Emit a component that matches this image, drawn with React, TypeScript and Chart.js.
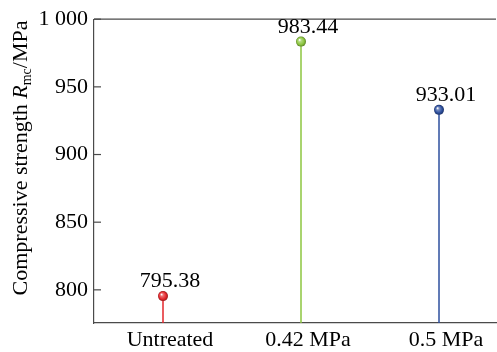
import React, { useEffect, useRef } from "react";
import { Chart, registerables } from "chart.js";

Chart.register(...registerables);

const categories = ["Untreated", "0.42 MPa", "0.5 MPa"];
const values = [795.38, 983.44, 933.01];
const valueLabels = ["795.38", "983.44", "933.01"];
const colors = ["#e3262b", "#8cc63f", "#2d4f9e"];
const stemColors = ["#e3262b", "#8cc63f", "#2d4f9e"];
const yTicks = [800, 850, 900, 950, 1000];
const yMin = 775.5;
const yMax = 1000;
const xMin = -0.5;
const xMax = 2.413;

const FONT = "'Liberation Serif', 'Times New Roman', serif";
const FS = 22;
const AXIS = "#4a4a4a";
const LABEL_DX = 7;

function shade(hex: string, f: number) {
  const n = parseInt(hex.slice(1), 16);
  let r = (n >> 16) & 255, g = (n >> 8) & 255, b = n & 255;
  if (f >= 0) {
    r = r + (255 - r) * f; g = g + (255 - g) * f; b = b + (255 - b) * f;
  } else {
    r = r * (1 + f); g = g * (1 + f); b = b * (1 + f);
  }
  return `rgb(${Math.round(r)},${Math.round(g)},${Math.round(b)})`;
}

const decorPlugin = {
  id: "decor",
  afterDatasetsDraw(chart: any) {
    const ctx = chart.ctx;
    const ca = chart.chartArea;
    const ys = chart.scales.y;
    ctx.save();
    // top border
    ctx.strokeStyle = AXIS;
    ctx.lineWidth = 1.2;
    ctx.beginPath();
    ctx.moveTo(ca.left, ca.top);
    ctx.lineTo(ca.right, ca.top);
    ctx.stroke();
    // inward y ticks
    yTicks.forEach((v) => {
      const py = ys.getPixelForValue(v);
      ctx.beginPath();
      ctx.moveTo(ca.left, py);
      ctx.lineTo(ca.left + 7, py);
      ctx.stroke();
    });
    // balls and labels
    const meta = chart.getDatasetMeta(3);
    meta.data.forEach((pt: any, i: number) => {
      const x = pt.x, y = pt.y, r = 5;
      const grad = ctx.createRadialGradient(x - 1.6, y - 1.8, 0.3, x, y, r);
      grad.addColorStop(0, "#ffffff");
      grad.addColorStop(0.25, shade(colors[i], 0.35));
      grad.addColorStop(0.7, colors[i]);
      grad.addColorStop(1, shade(colors[i], -0.35));
      ctx.fillStyle = grad;
      ctx.beginPath();
      ctx.arc(x, y, r, 0, Math.PI * 2);
      ctx.fill();
      ctx.fillStyle = "#000";
      ctx.font = `${FS}px ${FONT}`;
      ctx.textAlign = "center";
      ctx.textBaseline = "alphabetic";
      ctx.fillText(valueLabels[i], x + LABEL_DX, y - 9);
    });
    // y title
    ctx.translate(27, 158);
    ctx.rotate(-Math.PI / 2);
    ctx.fillStyle = "#000";
    ctx.textBaseline = "alphabetic";
    ctx.textAlign = "left";
    const p1 = "Compressive strength ";
    const p2 = "R";
    const p3 = "mc";
    const p4 = "/MPa";
    const sub = 14;
    ctx.font = `${FS}px ${FONT}`;
    const w1 = ctx.measureText(p1).width;
    ctx.font = `italic ${FS}px ${FONT}`;
    const w2 = ctx.measureText(p2).width;
    ctx.font = `${sub}px ${FONT}`;
    const w3 = ctx.measureText(p3).width;
    ctx.font = `${FS}px ${FONT}`;
    const w4 = ctx.measureText(p4).width;
    const total = w1 + w2 + w3 + w4;
    let cx = -total / 2;
    ctx.font = `${FS}px ${FONT}`;
    ctx.fillText(p1, cx, 0); cx += w1;
    ctx.font = `italic ${FS}px ${FONT}`;
    ctx.fillText(p2, cx, 0); cx += w2;
    ctx.font = `${sub}px ${FONT}`;
    ctx.fillText(p3, cx, 4); cx += w3;
    ctx.font = `${FS}px ${FONT}`;
    ctx.fillText(p4, cx, 0);
    ctx.restore();
  },
};

export default function App() {
  const ref = useRef<HTMLCanvasElement>(null);
  useEffect(() => {
    if (!ref.current) return;
    const stems = values.map((v, i) => ({
      type: "line" as const,
      data: [
        { x: i, y: yMin },
        { x: i, y: v },
      ],
      borderColor: stemColors[i],
      borderWidth: 1.5,
      pointRadius: 0,
      showLine: true,
    }));
    const chart = new Chart(ref.current, {
      type: "scatter",
      data: {
        datasets: [
          ...stems,
          {
            type: "scatter" as const,
            data: values.map((v, i) => ({ x: i, y: v })),
            pointRadius: 0,
            backgroundColor: colors,
          },
        ] as any,
      },
      options: {
        animation: false,
        responsive: false,
        events: [],
        layout: { padding: { top: 19, right: 1, left: 0, bottom: 0 } },
        plugins: {
          legend: { display: false },
          tooltip: { enabled: false },
        },
        scales: {
          x: {
            type: "linear",
            min: xMin,
            max: xMax,
            grid: { display: false, drawTicks: false },
            border: { display: true, color: AXIS, width: 1.2 },
            afterBuildTicks: (s: any) => {
              s.ticks = categories.map((_, i) => ({ value: i }));
            },
            afterFit: (s: any) => {
              s.height = 29;
            },
            ticks: {
              padding: 6,
              labelOffset: LABEL_DX,
              color: "#000",
              font: { family: FONT, size: FS, lineHeight: 1 },
              maxRotation: 0,
              autoSkip: false,
              callback: (v: any) => categories[v as number] ?? "",
            },
          },
          y: {
            type: "linear",
            min: yMin,
            max: yMax,
            grid: { display: false, drawTicks: false },
            border: { display: true, color: AXIS, width: 1.2 },
            afterBuildTicks: (s: any) => {
              s.ticks = yTicks.map((v) => ({ value: v }));
            },
            afterFit: (s: any) => {
              s.width = 94;
            },
            ticks: {
              padding: 6,
              color: "#000",
              font: { family: FONT, size: FS },
              callback: (v: any) => (v === 1000 ? "1 000" : String(v)),
            },
          },
        },
      },
      plugins: [decorPlugin],
    });
    return () => chart.destroy();
  }, []);
  return (
    <div style={{ position: "fixed", left: 0, top: 0, width: 497, height: 352, background: "#fff" }}>
      <canvas ref={ref} width={497} height={352} style={{ width: 497, height: 352 }} />
    </div>
  );
}
